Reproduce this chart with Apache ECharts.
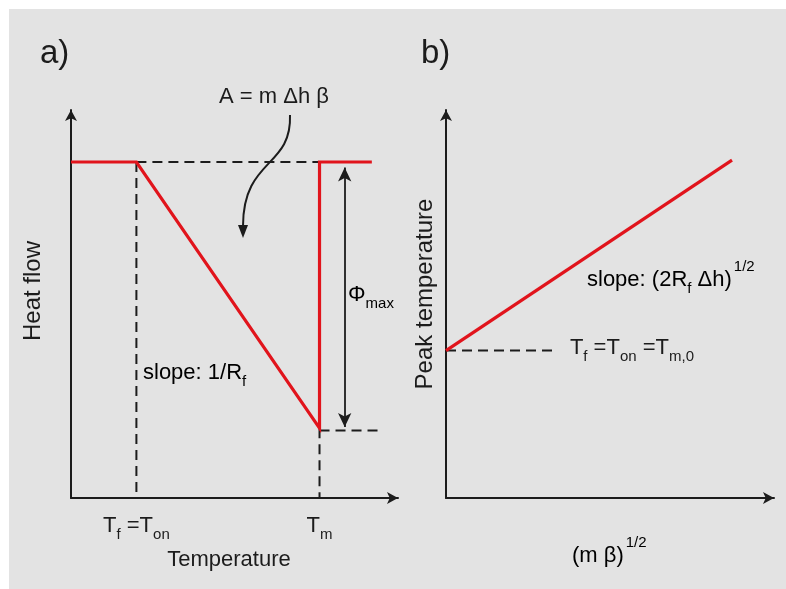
<!DOCTYPE html>
<html>
<head>
<meta charset="utf-8">
<script src="https://cdn.jsdelivr.net/npm/echarts@6/dist/echarts.min.js"></script>
<style>
  html, body { margin: 0; padding: 0; background: #fff; }
  #main { width: 786px; height: 589px; }
</style>
</head>
<body>
<div id="main"></div>
<script>
// panel a: heat flow vs temperature (schematic, axes 0..100)
var heatFlowCurve = [[0, 86.6], [20, 86.6], [76, 18], [76, 86.6], [92, 86.6]];
var baselineDash = [[20, 86.6], [76, 86.6]];
var onsetDash = [[20, 86.6], [20, -1.5]];
var meltDash = [[76, 18], [76, 0]];
var minDash = [[76, 17.4], [95.5, 17.4]];
var phiArrow = [[83.7, 85.2], [83.7, 18.3]];
var xTicksA = [20, 76];

// panel b: peak temperature vs (m beta)^1/2
var peakLine = [[0, 38], [87.2, 87.1]];
var tonDash = [[0, 38], [33.5, 38]];

var RED = '#e1141c';
var INK = '#1c1c1c';
var FONT = '"Liberation Sans", Arial, sans-serif';

var chart = echarts.init(document.getElementById('main'));

var subRich = {
  n: { fontSize: 22, fontFamily: FONT, color: INK, verticalAlign: 'top' },
  s: { fontSize: 15, fontFamily: FONT, color: INK, verticalAlign: 'top', padding: [12, 0, 0, 0] }
};
var supRich = {
  n: { fontSize: 22, fontFamily: FONT, color: INK, verticalAlign: 'top', padding: [10, 0, 0, 0] },
  s: { fontSize: 15, fontFamily: FONT, color: INK, verticalAlign: 'top', padding: [22, 0, 0, 0] },
  p: { fontSize: 15, fontFamily: FONT, color: INK, verticalAlign: 'top', padding: [0, 0, 0, 2] }
};

function axisBase() {
  return {
    type: 'value', min: 0, max: 100,
    splitLine: { show: false },
    axisTick: { show: false },
    axisLabel: { show: false },
    axisLine: {
      show: true, onZero: false,
      symbol: ['none', 'arrow'], symbolSize: [9, 11],
      lineStyle: { color: INK, width: 2 }
    }
  };
}

var xA = axisBase();
xA.gridIndex = 0;
xA.axisLabel = {
  show: true, customValues: xTicksA, margin: 17,
  formatter: function (v) {
    return v === 20 ? '{n|T}{s|f}{n| =T}{s|on}' : '{n|T}{s|m}';
  },
  rich: subRich
};
var yA = axisBase(); yA.gridIndex = 0;
var xB = axisBase(); xB.gridIndex = 1;
var yB = axisBase(); yB.gridIndex = 1;

function dashed(data, xi) {
  return {
    type: 'line', xAxisIndex: xi, yAxisIndex: xi, data: data,
    symbol: 'none', silent: true, z: 1,
    lineStyle: { color: INK, width: 2, type: [10, 6] }
  };
}

chart.setOption({
  backgroundColor: '#ffffff',
  animation: false,
  grid: [
    { left: 71, top: 110, width: 327, height: 388 },
    { left: 446, top: 110, width: 328, height: 388 }
  ],
  xAxis: [xA, xB],
  yAxis: [yA, yB],
  series: [
    dashed(baselineDash, 0),
    dashed(onsetDash, 0),
    dashed(meltDash, 0),
    dashed(minDash, 0),
    {
      type: 'line', xAxisIndex: 0, yAxisIndex: 0, data: heatFlowCurve,
      symbol: 'none', z: 3,
      lineStyle: { color: RED, width: 3.2, join: 'miter' }
    },
    {
      type: 'line', xAxisIndex: 0, yAxisIndex: 0, data: [],
      markLine: {
        silent: true, symbol: ['arrow', 'arrow'], symbolSize: [10, 14],
        label: { show: false },
        lineStyle: { color: INK, width: 1.8, type: 'solid' },
        data: [[{ coord: phiArrow[0] }, { coord: phiArrow[1] }]]
      }
    },
    {
      type: 'line', xAxisIndex: 1, yAxisIndex: 1, data: tonDash,
      symbol: 'none', silent: true,
      lineStyle: { color: INK, width: 2, type: [10, 6] },
      endLabel: {
        show: true, distance: 14,
        formatter: '{n|T}{s|f}{n| =T}{s|on}{n| =T}{s|m,0}',
        rich: subRich
      }
    },
    {
      type: 'line', xAxisIndex: 1, yAxisIndex: 1, data: peakLine,
      symbol: 'none', z: 3,
      lineStyle: { color: RED, width: 3.2 }
    }
  ],
  graphic: [
    { type: 'rect', z: -10, shape: { x: 9, y: 9, width: 777, height: 580 }, style: { fill: '#e3e3e3' } },
    { type: 'text', x: 40, y: 37, style: { text: 'a)', font: '33px ' + FONT, fill: INK } },
    { type: 'text', x: 421, y: 37, style: { text: 'b)', font: '33px ' + FONT, fill: INK } },
    { type: 'text', x: 219, y: 86, style: { text: 'A = m \u0394h \u03b2', font: '22px ' + FONT, fill: INK } },
    {
      type: 'bezierCurve',
      shape: { x1: 290, y1: 115, cpx1: 292, cpy1: 168, cpx2: 243, cpy2: 158, x2: 243, y2: 226 },
      style: { stroke: INK, lineWidth: 2, fill: null }
    },
    { type: 'polygon', shape: { points: [[238, 225], [248, 225], [243, 238]] }, style: { fill: INK } },
    {
      type: 'text', x: 348, y: 284,
      style: { text: '{n|\u03a6}{s|max}', rich: subRich }
    },
    {
      type: 'text', x: 143, y: 362,
      style: { text: '{n|slope: 1/R}{s|f}', rich: subRich }
    },
    {
      type: 'text', x: 587, y: 259,
      style: { text: '{n|slope: (2R}{s|f}{n| \u0394h)}{p|1/2}', rich: supRich }
    },
    {
      type: 'text', x: 572, y: 535,
      style: { text: '{n|(m \u03b2)}{p|1/2}', rich: supRich }
    },
    {
      type: 'text', x: 33, y: 291, rotation: Math.PI / 2,
      style: { text: 'Heat flow', font: '24px ' + FONT, fill: INK, align: 'center', verticalAlign: 'middle' }
    },
    {
      type: 'text', x: 425, y: 294, rotation: Math.PI / 2,
      style: { text: 'Peak temperature', font: '24px ' + FONT, fill: INK, align: 'center', verticalAlign: 'middle' }
    },
    {
      type: 'text', x: 229, y: 560,
      style: { text: 'Temperature', font: '22px ' + FONT, fill: INK, align: 'center', verticalAlign: 'middle' }
    }
  ]
});
</script>
</body>
</html>
